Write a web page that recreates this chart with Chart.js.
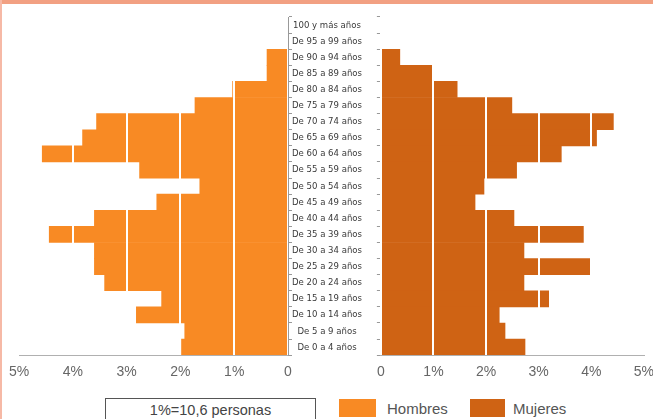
<!DOCTYPE html>
<html>
<head>
<meta charset="utf-8">
<script src="https://cdn.jsdelivr.net/npm/chart.js@4.4.1/dist/chart.umd.min.js"></script>
<style>
  html, body { margin: 0; padding: 0; background: #fff; }
  body { width: 653px; height: 419px; position: relative; overflow: hidden; font-family: "Liberation Sans", Arial, sans-serif; }
  #topbar { position: absolute; left: 0; top: 0; width: 653px; height: 4px; background: #f2a082; z-index: 2; }
  #leftbar { position: absolute; left: 0; top: 0; width: 2px; height: 419px; background: #f6b9a6; z-index: 2; }
  #cL { position: absolute; left: 0; top: 0; }
  #cR { position: absolute; left: 368px; top: 0; }
  #scale { position: absolute; left: 105px; top: 398px; width: 211px; height: 26px; border: 1px solid #555; box-sizing: border-box;
           font-size: 14.5px; color: #444; text-align: center; line-height: 22px; }
  .sw { position: absolute; top: 399px; height: 18px; }
  .lt { position: absolute; top: 400px; font-size: 15px; color: #555; line-height: 17px; }
</style>
</head>
<body>
<div id="topbar"></div>
<div id="leftbar"></div>
<canvas id="cL" width="378" height="390"></canvas>
<canvas id="cR" width="295" height="390"></canvas>
<div id="scale"></div>
<div class="sw" id="swH" style="left:339px;width:37px;"></div>
<div class="lt" id="ltH" style="left:387px;"></div>
<div class="sw" id="swM" style="left:470px;width:35px;"></div>
<div class="lt" id="ltM" style="left:513px;"></div>
<script>
const categories = ["100 y más años", "De 95 a 99 años", "De 90 a 94 años", "De 85 a 89 años", "De 80 a 84 años",
  "De 75 a 79 años", "De 70 a 74 años", "De 65 a 69 años", "De 60 a 64 años", "De 55 a 59 años",
  "De 50 a 54 años", "De 45 a 49 años", "De 40 a 44 años", "De 35 a 39 años", "De 30 a 34 años",
  "De 25 a 29 años", "De 20 a 24 años", "De 15 a 19 años", "De 10 a 14 años", "De 5 a 9 años", "De 0 a 4 años"];
const hombres = [0, 0, 0.39, 0.39, 1.03, 1.73, 3.56, 3.82, 4.57, 2.76, 1.64, 2.44, 3.6, 4.44, 3.6, 3.6, 3.41, 2.35, 2.82, 1.92, 1.98];
const mujeres = [0, 0, 0.36, 1.0, 1.45, 2.49, 4.42, 4.1, 3.43, 2.58, 1.96, 1.79, 2.53, 3.85, 2.72, 4.0, 2.72, 3.19, 2.25, 2.36, 2.74];
const xTicks = ["0", "1%", "2%", "3%", "4%", "5%"];
const seriesNames = ["Hombres", "Mujeres"];
const scaleNote = "1%=10,6 personas";

const colH = "#f88a24";
const colM = "#cf6314";
const narrow = "'DejaVu Sans Condensed', 'Liberation Sans Narrow', sans-serif";
const sans = "'Liberation Sans', Arial, sans-serif";

document.getElementById("scale").textContent = scaleNote;
document.getElementById("swH").style.background = colH;
document.getElementById("swM").style.background = colM;
document.getElementById("ltH").textContent = seriesNames[0];
document.getElementById("ltM").textContent = seriesNames[1];

function xScale(reverse) {
  return {
    type: "linear", min: 0, max: 5, reverse: reverse,
    grid: { color: "#ffffff", lineWidth: 2, drawTicks: false, z: 1 },
    border: { display: true, color: "#b0b0b0", width: 1, z: 2 },
    ticks: { stepSize: 1, padding: 9, color: "#666", font: { family: sans, size: 14 },
      callback: (v) => xTicks[Math.round(v)] }
  };
}

new Chart(document.getElementById("cL"), {
  type: "bar",
  data: { labels: categories, datasets: [{ label: seriesNames[0], data: hombres, backgroundColor: colH, borderWidth: 0,
    barPercentage: 1, categoryPercentage: 1 }] },
  options: {
    indexAxis: "y", responsive: false, animation: false, devicePixelRatio: 1,
    layout: { padding: { left: 12, top: 17, right: 0, bottom: 0 } },
    plugins: { legend: { display: false }, tooltip: { enabled: false } },
    scales: {
      x: xScale(true),
      y: {
        position: "right", offset: true,
        grid: { offset: true, drawOnChartArea: false, tickLength: 4, color: "#999" },
        border: { display: true, color: "#999", z: 2 },
        ticks: { crossAlign: "center", color: "#3a3a3a", padding: 0, autoSkip: false, font: { family: narrow, size: 9.5 } },
        afterFit: (s) => { s.width = 90; }
      }
    }
  }
});

new Chart(document.getElementById("cR"), {
  type: "bar",
  data: { labels: categories, datasets: [{ label: seriesNames[1], data: mujeres, backgroundColor: colM, borderWidth: 0,
    barPercentage: 1, categoryPercentage: 1 }] },
  options: {
    indexAxis: "y", responsive: false, animation: false, devicePixelRatio: 1,
    layout: { padding: { left: 0, top: 17, right: 0, bottom: 0 } },
    plugins: { legend: { display: false }, tooltip: { enabled: false } },
    scales: {
      x: xScale(false),
      y: {
        position: "left", offset: true,
        grid: { offset: true, drawOnChartArea: false, tickLength: 4, color: "#999" },
        border: { display: true, color: "#999" },
        ticks: { display: false },
        afterFit: (s) => { s.width = 10; }
      }
    }
  }
});
</script>
</body>
</html>
